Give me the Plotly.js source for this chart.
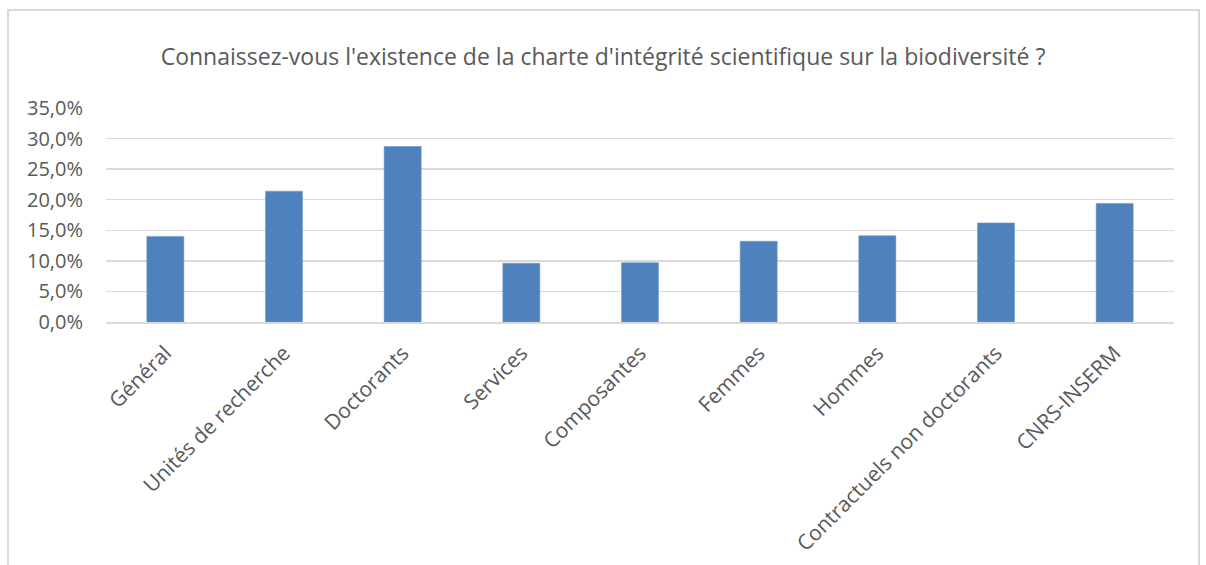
<!DOCTYPE html>
<html>
<head>
<meta charset="utf-8">
<script src="https://cdn.plot.ly/plotly-3.0.1.min.js"></script>
<style>
  html, body { margin: 0; padding: 0; background: #ffffff; }
  #wrap { position: relative; width: 1206px; height: 565px; overflow: hidden; background: #ffffff; }
  #frame { position: absolute; left: 7px; top: 9px; width: 1193px; height: 600px; border: 2px solid #d9d9d9; box-sizing: border-box; }
  #chart { position: absolute; left: 0; top: 0; width: 1206px; height: 565px; }
</style>
</head>
<body>
<div id="wrap">
  <div id="frame"></div>
  <div id="chart"></div>
</div>
<script>
const categories = ["Général", "Unités de recherche", "Doctorants", "Services", "Composantes", "Femmes", "Hommes", "Contractuels non doctorants", "CNRS-INSERM"];
const values = [0.140, 0.214, 0.287, 0.096, 0.097, 0.132, 0.141, 0.162, 0.194];
const yTickVals = [0, 0.05, 0.10, 0.15, 0.20, 0.25, 0.30, 0.35];
const yTickText = ["0,0%", "5,0%", "10,0%", "15,0%", "20,0%", "25,0%", "30,0%", "35,0%"];
const chartTitle = "Connaissez-vous l'existence de la charte d'intégrité scientifique sur la biodiversité ?";

const textColor = "#595959";
const fontFam = "'Open Sans', 'Noto Sans', sans-serif";

const trace = {
  type: "bar",
  x: categories,
  y: values,
  marker: { color: "#4f81bd", line: { color: "#6f97cb", width: 0.6 } },
  hoverinfo: "none"
};

const layout = {
  width: 1206,
  height: 565,
  paper_bgcolor: "rgba(0,0,0,0)",
  plot_bgcolor: "rgba(0,0,0,0)",
  margin: { l: 106, r: 32, t: 108, b: 243, pad: 0 },
  bargap: 0.688,
  showlegend: false,
  title: {
    text: chartTitle,
    font: { family: fontFam, size: 23, color: textColor },
    x: 0.5,
    xanchor: "center",
    y: 1 - 57 / 565,
    yanchor: "middle",
    yref: "container"
  },
  xaxis: {
    type: "category",
    tickangle: -45,
    tickfont: { family: fontFam, size: 21, color: textColor },
    showgrid: false,
    showline: true,
    linecolor: "#d9d9d9",
    linewidth: 1.5,
    ticks: "outside",
    ticklen: 9,
    tickcolor: "rgba(0,0,0,0)",
    fixedrange: true
  },
  yaxis: {
    range: [0, 0.35],
    tickvals: yTickVals,
    ticktext: yTickText,
    tickfont: { family: fontFam, size: 20, color: textColor },
    showgrid: true,
    gridcolor: "#d9d9d9",
    gridwidth: 1.5,
    zeroline: false,
    showline: false,
    ticks: "",
    ticklabelstandoff: 22,
    fixedrange: true
  }
};

Plotly.newPlot("chart", [trace], layout, { displayModeBar: false, staticPlot: true });
</script>
</body>
</html>
